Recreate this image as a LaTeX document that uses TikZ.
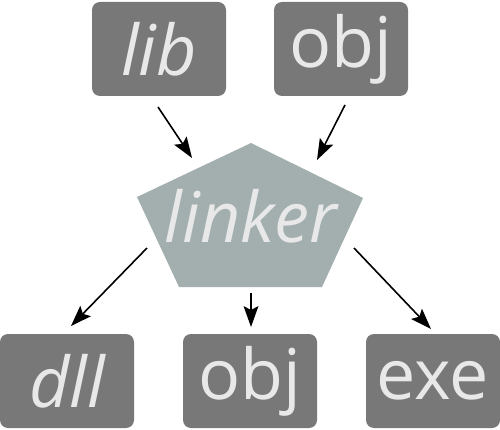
\documentclass[tikz,border=0pt]{standalone}
\usepackage{fontspec}
\setmainfont{Open Sans}
\usetikzlibrary{decorations.markings}
\definecolor{boxgray}{HTML}{787878}
\definecolor{pentgray}{HTML}{A3AFAF}
\definecolor{txtgray}{HTML}{E8E8E8}
\tikzset{
  filebox/.style={fill=boxgray, rounded corners=8pt, minimum width=134pt, minimum height=94pt, inner sep=0pt, text=txtgray, font=\fontsize{70}{76}\selectfont},
  conn/.style={line width=1.6pt, draw=black, shorten >=8pt,
    postaction={decorate},
    decoration={markings, mark=at position 1 with {\fill[black] (0pt,0pt) -- (-21pt,7.5pt) -- (-17pt,0pt) -- (-21pt,-7.5pt) -- cycle;}}}
}
\begin{document}
\begin{tikzpicture}[x=1pt,y=1pt]
\useasboundingbox (0,0) rectangle (500,-430);
\node[filebox] (lib) at (159,-49) {\itshape lib};
\node[filebox] (objin) at (341,-49) {obj};
\node[filebox] (dll) at (67,-381) {\itshape dll};
\node[filebox] (objout) at (250,-381) {obj};
\node[filebox] (exe) at (433,-381) {exe};
\fill[pentgray] (251,-143) -- (363,-198) -- (322,-287) -- (179,-287) -- (137,-197) -- cycle;
\node[anchor=base, inner sep=0pt, text=txtgray, font=\fontsize{70}{76}\selectfont\itshape] (linker) at (251,-243) {linker};
\coordinate (a1s) at (158,-107); \coordinate (a1e) at (192,-158);
\coordinate (a2s) at (345,-105); \coordinate (a2e) at (317,-160);
\coordinate (a3s) at (147,-248); \coordinate (a3e) at (71,-326);
\coordinate (a4s) at (251,-293); \coordinate (a4e) at (251,-327);
\coordinate (a5s) at (354,-248); \coordinate (a5e) at (431,-329);
\draw[conn] (a1s) -- (a1e);
\draw[conn] (a2s) -- (a2e);
\draw[conn] (a3s) -- (a3e);
\draw[conn] (a4s) -- (a4e);
\draw[conn] (a5s) -- (a5e);
\end{tikzpicture}
\end{document}
